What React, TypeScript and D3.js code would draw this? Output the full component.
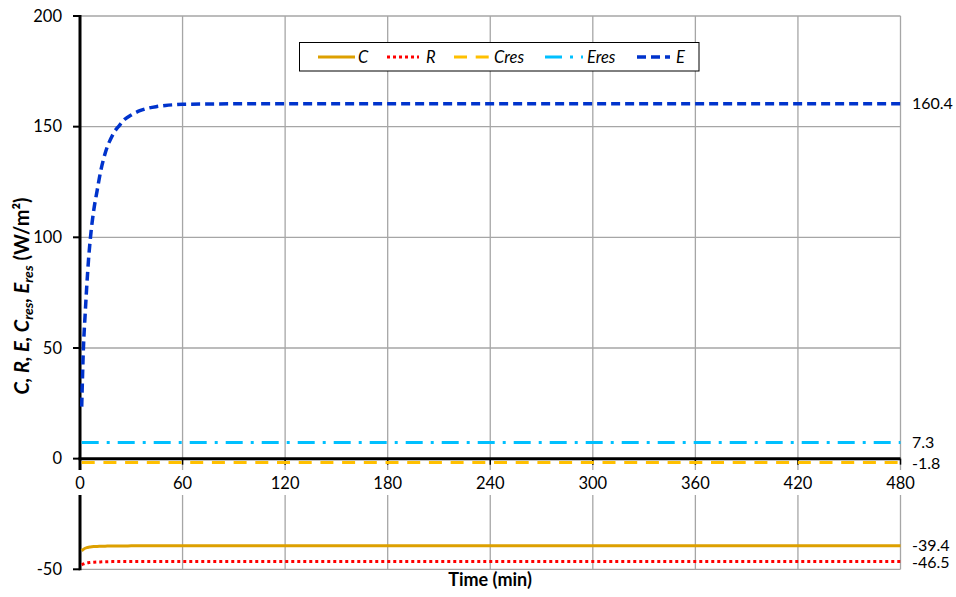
import React from "react";
import * as d3 from "d3";

// Time samples (min)
const timeMin = [1, 2, 3, 4, 5, 6, 8, 10, 12, 14, 16, 18, 20, 23, 26, 30, 35, 40, 45, 50, 55, 60, 120, 180, 240, 300, 360, 420, 480];

// Heat flows (W/m²)
const seriesC = [-41.6, -41.0, -40.5, -40.2, -40.0, -39.9, -39.75, -39.65, -39.6, -39.55, -39.5, -39.5, -39.45, -39.45, -39.45, -39.4, -39.4, -39.4, -39.4, -39.4, -39.4, -39.4, -39.4, -39.4, -39.4, -39.4, -39.4, -39.4, -39.4];
const seriesR = [-48.0, -47.6, -47.3, -47.1, -47.0, -46.9, -46.8, -46.7, -46.65, -46.6, -46.6, -46.55, -46.5, -46.5, -46.5, -46.5, -46.5, -46.5, -46.5, -46.5, -46.5, -46.5, -46.5, -46.5, -46.5, -46.5, -46.5, -46.5, -46.5];
const seriesCres = [-1.8, -1.8, -1.8, -1.8, -1.8, -1.8, -1.8, -1.8, -1.8, -1.8, -1.8, -1.8, -1.8, -1.8, -1.8, -1.8, -1.8, -1.8, -1.8, -1.8, -1.8, -1.8, -1.8, -1.8, -1.8, -1.8, -1.8, -1.8, -1.8];
const seriesEres = [7.3, 7.3, 7.3, 7.3, 7.3, 7.3, 7.3, 7.3, 7.3, 7.3, 7.3, 7.3, 7.3, 7.3, 7.3, 7.3, 7.3, 7.3, 7.3, 7.3, 7.3, 7.3, 7.3, 7.3, 7.3, 7.3, 7.3, 7.3, 7.3];
const seriesE = [23.5, 50, 65, 78.5, 90, 99, 112, 121, 129.5, 136, 141, 144.5, 147.5, 150.5, 153.2, 155.3, 157.2, 158.4, 159.1, 159.6, 159.9, 160.1, 160.4, 160.4, 160.4, 160.4, 160.4, 160.4, 160.4];

const xTicks = [0, 60, 120, 180, 240, 300, 360, 420, 480];
const yTicks = [-50, 0, 50, 100, 150, 200];
const endLabels = ["160.4", "7.3", "-1.8", "-39.4", "-46.5"];

const FONT = "Lato, 'Open Sans', sans-serif";

const series = [
  { name: "C", values: seriesC, color: "#DDA000", width: 3, dash: "", end: endLabels[3], nudge: -0.5 },
  { name: "R", values: seriesR, color: "#FF0000", width: 3, dash: "3 3", end: endLabels[4], nudge: 1 },
  { name: "Cres", values: seriesCres, color: "#FFC000", width: 3, dash: "13 8.7", end: endLabels[2], nudge: 0.5 },
  { name: "Eres", values: seriesEres, color: "#00C0FF", width: 3, dash: "17 8 3 8", end: endLabels[1], nudge: 0 },
  { name: "E", values: seriesE, color: "#0033CC", width: 3.5, dash: "9 5", end: endLabels[0], nudge: 0 },
];

export default function App() {
  const x = d3.scaleLinear().domain([0, 480]).range([80, 900.5]);
  const y = d3.scaleLinear().domain([-50, 200]).range([569.3, 16]);

  const line = (vals: number[]) =>
    d3
      .line<number>()
      .x((_, i) => x(timeMin[i]))
      .y((v) => y(v))
      .curve(d3.curveMonotoneX)(vals) || "";

  const legendItems = [
    { x0: 318, x1: 355, tx: 358 },
    { x0: 387, x1: 419, tx: 426 },
    { x0: 454, x1: 489, tx: 494 },
    { x0: 545, x1: 583, tx: 587 },
    { x0: 637, x1: 670, tx: 676 },
  ];

  const grid = "#A6A6A6";
  const y0 = y(0);

  return (
    <svg
      width={956}
      height={597}
      style={{ position: "absolute", left: 0, top: 0, background: "#fff" }}
      fontFamily={FONT}
    >
      <rect x={0} y={0} width={956} height={597} fill="#fff" />

      {/* grid */}
      {xTicks.slice(1).map((t) => (
        <line key={"vx" + t} x1={x(t)} x2={x(t)} y1={y(200)} y2={y(-50)} stroke={grid} strokeWidth={1.3} />
      ))}
      {[-50, 50, 100, 150, 200].map((v) => (
        <line key={"hy" + v} x1={x(0)} x2={x(480)} y1={y(v)} y2={y(v)} stroke={grid} strokeWidth={1.3} />
      ))}

      {/* y axis */}
      <line x1={x(0)} x2={x(0)} y1={y(200) - 1} y2={y(-50) + 1} stroke="#000" strokeWidth={3} />
      {yTicks.map((v) => (
        <g key={"yt" + v}>
          <line x1={x(0) - 7} x2={x(0)} y1={y(v)} y2={y(v)} stroke="#000" strokeWidth={2} />
          <text x={62} y={y(v)} dy="0.35em" textAnchor="end" fontSize={16.5} fill="#000">
            {v}
          </text>
        </g>
      ))}

      {/* x axis along zero */}
      <line x1={x(0) - 1.5} x2={x(480)} y1={y0} y2={y0} stroke="#000" strokeWidth={3} />
      {xTicks.map((t) => (
        <line key={"xt" + t} x1={x(t)} x2={x(t)} y1={y0} y2={y0 + 6} stroke="#000" strokeWidth={1.5} />
      ))}

      {/* series */}
      {series.map((s) => (
        <path
          key={s.name}
          d={line(s.values)}
          fill="none"
          stroke={s.color}
          strokeWidth={s.width}
          strokeDasharray={s.dash || undefined}
        />
      ))}

      {/* x tick labels with white backing */}
      {xTicks.map((t) => (
        <g key={"xl" + t}>
          <rect x={x(t) - 20} y={470} width={40} height={25} fill="#fff" />
          <text x={x(t)} y={483} dy="0.35em" textAnchor="middle" fontSize={16.5} fill="#000">
            {t}
          </text>
        </g>
      ))}

      {/* end-value labels */}
      {series.map((s) => (
        <text
          key={"end" + s.name}
          x={912}
          y={y(s.values[s.values.length - 1]) + s.nudge}
          dy="0.35em"
          fontSize={16}
          fill="#000"
        >
          {s.end}
        </text>
      ))}

      {/* legend */}
      <rect x={299.5} y={42.5} width={399.5} height={28.5} fill="#fff" stroke="#000" strokeWidth={1} />
      {series.map((s, i) => (
        <g key={"lg" + s.name}>
          <line
            x1={legendItems[i].x0}
            x2={legendItems[i].x1}
            y1={57}
            y2={57}
            stroke={s.color}
            strokeWidth={s.width}
            strokeDasharray={s.dash || undefined}
          />
          <text x={legendItems[i].tx} y={57} dy="0.35em" fontSize={16.5} fontStyle="italic" fill="#000">
            {s.name}
          </text>
        </g>
      ))}

      {/* axis titles */}
      <text x={490} y={580} dy="0.35em" textAnchor="middle" fontSize={18} fontWeight="bold" fill="#000">
        Time (min)
      </text>
      <text
        transform="translate(29,296) rotate(-90)"
        textAnchor="middle"
        fontSize={20}
        fontWeight="bold"
        fill="#000"
      >
        <tspan fontStyle="italic">C, R, E, C</tspan>
        <tspan fontStyle="italic" fontSize={14} dy={4}>res</tspan>
        <tspan fontStyle="italic" dy={-4}>, E</tspan>
        <tspan fontStyle="italic" fontSize={14} dy={4}>res</tspan>
        <tspan dy={-4}> (W/m²)</tspan>
      </text>
    </svg>
  );
}
